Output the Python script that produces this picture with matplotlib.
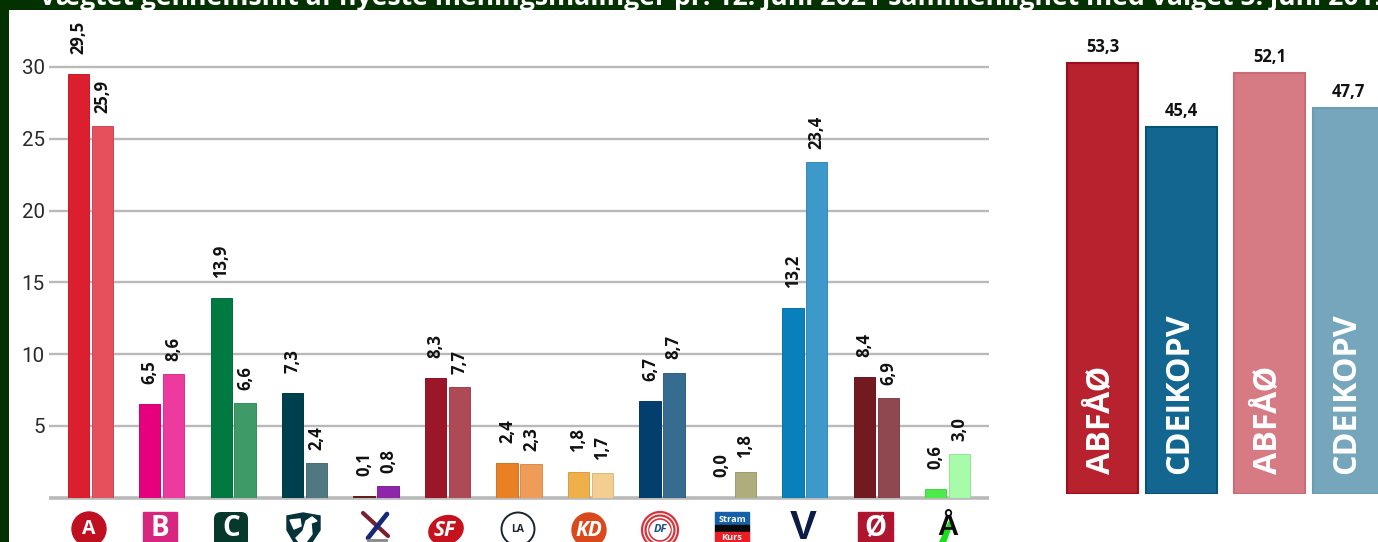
import matplotlib
matplotlib.use("Agg")
import matplotlib.pyplot as plt
import numpy as np
from matplotlib.patches import Circle, Rectangle, Polygon, FancyBboxPatch, Ellipse

W, H = 1378, 542
TITLE = "Vægtet gennemsnit af nyeste meningsmålinger pr. 12. juni 2021 sammenlignet med valget 5. juni 2019."
parties = ["A", "B", "C", "D", "E", "F", "I", "KD", "O", "P", "V", "Ø", "Å"]
polls = [29.5, 6.5, 13.9, 7.3, 0.1, 8.3, 2.4, 1.8, 6.7, 0.0, 13.2, 8.4, 0.6]
election = [25.9, 8.6, 6.6, 2.4, 0.8, 7.7, 2.3, 1.7, 8.7, 1.8, 23.4, 6.9, 3.0]
poll_colors = ["#DC1F2E", "#E6007E", "#007A40", "#003F4E", "#6A1F1F", "#9B1626", "#E98024",
               "#EFB04C", "#023F6E", "#777777", "#0780BC", "#731A20", "#4CEB4C"]
election_colors = ["#E5505C", "#EC3A9E", "#3E9B68", "#4F7880", "#8F25A8", "#AE4A56", "#EE9C58",
                   "#F3CE8E", "#356C8F", "#B0AD7D", "#3D99C9", "#8F4850", "#A8FBA8"]
blocs = ["ABFÅØ", "CDEIKOPV", "ABFÅØ", "CDEIKOPV"]
bloc_values = [53.3, 45.4, 52.1, 47.7]
bloc_colors = ["#B8212E", "#126690", "#D67A83", "#76A6BC"]
bloc_edges = ["#9A0F1B", "#045478", "#C96C76", "#6A9DB4"]
yticks = [5, 10, 15, 20, 25, 30]


def fmt(v):
    return f"{v:.1f}".replace(".", ",")


def px_axes(l, t, r, b, **kw):
    return fig.add_axes([l / W, 1 - b / H, (r - l) / W, (b - t) / H], **kw)


def darker(c, f=0.9):
    return tuple(np.array(matplotlib.colors.to_rgb(c)) * f)


fig = plt.figure(figsize=(W / 100, H / 100), dpi=100, facecolor="#033100")
fig.text(39 / W, 1 - 5 / H, TITLE, color="white", fontsize=19.15, fontweight="bold",
         family="Open Sans", ha="left", va="baseline", zorder=0)

panel = px_axes(9, 10, W, H, zorder=1)
panel.set_facecolor("white")
panel.set_xticks([]); panel.set_yticks([])
for s in panel.spines.values():
    s.set_visible(False)

# main chart
ax = px_axes(49, 10, 989, 497.5, zorder=2)
ax.patch.set_alpha(0)
PITCH = 71.45
ax.set_xlim((49 - 90.3) / PITCH, (989 - 90.3) / PITCH)
ax.set_ylim(0, 487.5 / 14.35)
for s in ax.spines.values():
    s.set_visible(False)
ax.set_xticks([])
ax.set_yticks(yticks)
ax.tick_params(axis="y", length=0, pad=3, labelsize=14.8, labelcolor="#2A2A2A")
for t in ax.get_yticklabels():
    t.set_family("Roboto")
ax.grid(axis="y", color="#B9B9B9", lw=1.7, zorder=0)
ax.set_axisbelow(True)
ax.axhline(0, color="#B9B9B9", lw=2.6, zorder=1, clip_on=False, solid_capstyle="butt")

x = np.arange(len(parties))
bw, off = 0.30, 0.1675
for i in x:
    for v, c, o, gap in ((polls[i], poll_colors[i], -off, 14.5), (election[i], election_colors[i], off, 9.5)):
        if v > 0:
            ax.bar(i + o, v, bw, color=c, edgecolor=darker(c), lw=0.7, zorder=3)
        ax.annotate(fmt(v), (i + o, v), xytext=(0, gap), textcoords="offset points", rotation=90,
                    ha="center", va="bottom", fontsize=12, fontweight="bold", family="Open Sans",
                    color="#111111", annotation_clip=False, zorder=4)

# bloc chart
ax2 = px_axes(1040, 10, W, 494, zorder=2)
ax2.patch.set_alpha(0)
U = 78.5
ax2.set_xlim((1040 - 1102.5) / U, (W - 1102.5) / U)
ax2.set_ylim(0, 484 / 8.086)
ax2.axis("off")
bx = np.array([0, 1, 167 / U, 167 / U + 1])
ax2.bar(bx, bloc_values, 71 / U, color=bloc_colors, edgecolor=bloc_edges, lw=1.5)
for xi, v, name in zip(bx, bloc_values, blocs):
    ax2.annotate(fmt(v), (xi, v), xytext=(0, 5), textcoords="offset points", ha="center", va="bottom",
                 fontsize=12, fontweight="bold", family="Open Sans", color="#111111")
    ax2.annotate(name, (xi, 0), xytext=(-1, 14.4), textcoords="offset points", rotation=90, ha="center",
                 va="bottom", fontsize=23.2, fontweight="bold", family="Open Sans", color="white")

# party logos (pixel coordinates of the picture)
lg = px_axes(0, 0, W, H, zorder=3)
lg.set_xlim(0, W); lg.set_ylim(H, 0); lg.axis("off"); lg.patch.set_alpha(0)


def T(x_, y_, s, size, color="white", style="normal", family="Open Sans", weight="bold"):
    lg.text(x_, y_, s, fontsize=size, color=color, style=style, family=family, weight=weight,
            ha="center", va="center")


lg.add_patch(Circle((89, 529), 17, color="#BE1020"))
T(89, 529, "A", 14)
lg.add_patch(Rectangle((143, 512), 34, 36, color="#D6267E"))
T(160, 529, "B", 20)
lg.add_patch(FancyBboxPatch((214, 512), 34, 36, boxstyle="round,pad=0,rounding_size=7", color="#06382C", lw=0))
T(231, 529, "C", 20)
lg.add_patch(Polygon([(287, 516), (303, 513), (320, 516), (320, 530), (312, 542), (303, 548), (294, 542), (287, 530)],
                     color="#06323C"))
lg.add_patch(Polygon([(296, 538), (303, 531), (306, 521), (312, 517), (317, 521), (311, 523), (312, 534), (306, 542), (299, 542)],
                     color="white"))
lg.add_patch(Polygon([(290, 520), (300, 519), (301, 526), (294, 529)], color="white"))
lg.plot([363, 388], [513, 536], color="#7A1F2E", lw=3.0, solid_capstyle="round")
lg.plot([387, 368], [514, 538], color="#15287A", lw=3.4, solid_capstyle="round")
lg.plot([368, 386], [540, 540], color="#888888", lw=2)
lg.add_patch(Ellipse((446, 530), 35, 28, angle=-20, color="#C5121C"))
T(445, 530, "SF", 15, style="italic")
lg.add_patch(Circle((518, 529), 16.5, facecolor="white", edgecolor="#1C2433", lw=1.4))
T(518, 529, "LA", 7.5, color="#1C2433")
lg.add_patch(Circle((589, 530), 17, color="#D9491B"))
T(589, 530, "KD", 15, style="italic")
for r, lw_ in ((18, 1.6), (14.5, 1.6), (11, 1.2)):
    lg.add_patch(Circle((660, 530), r, facecolor="none", edgecolor="#D8343B", lw=lw_))
lg.add_patch(Ellipse((660, 530), 20, 14, color="white"))
T(660, 530, "DF", 8, color="#1D4F86", style="italic")
lg.add_patch(Rectangle((715, 512), 34, 13, color="#1560A8"))
lg.add_patch(Rectangle((715, 525), 34, 7, color="#0A0A0A"))
lg.add_patch(Rectangle((715, 532), 34, 12, color="#EE1C25"))
T(732, 519, "Stram", 6.6)
T(732, 537, "Kurs", 6.6)
T(803.5, 528, "V", 29, color="#0C1B47", family="Liberation Sans")
lg.add_patch(Rectangle((858, 512), 35, 36, color="#B01530"))
T(875.5, 529, "Ø", 20)
lg.add_patch(Polygon([(938, 546), (949, 522), (953, 522), (944, 546)], color="#18E018"))
T(948, 527, "Å", 21, color="#0A0A0A", family="Liberation Sans")

fig.savefig("out.png", dpi=100, facecolor=fig.get_facecolor())
